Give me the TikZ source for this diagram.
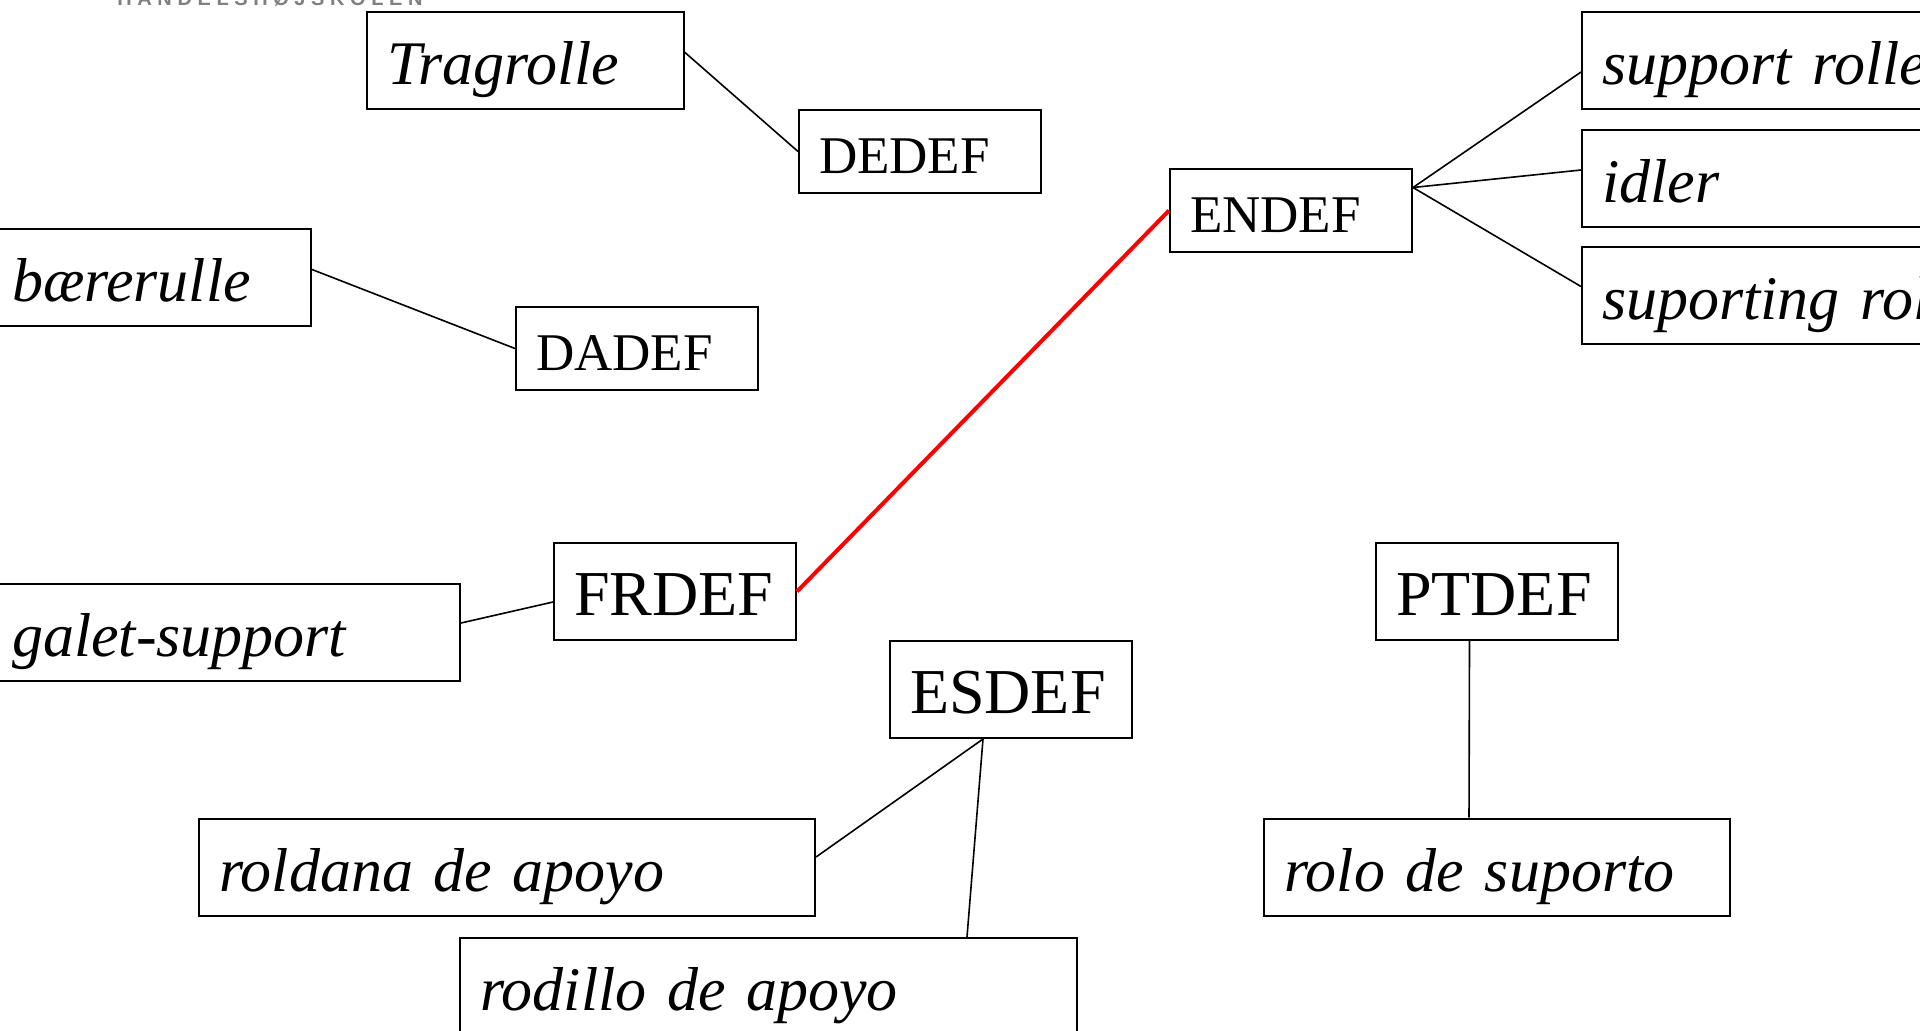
\documentclass[tikz,border=0pt]{standalone}
\usepackage{fontspec}
\setmainfont{Liberation Serif}
\newfontfamily\logofont[LetterSpace=28]{Liberation Sans}
\usepackage{tikz}
\usetikzlibrary{positioning}

\tikzset{
  code/.style={draw, line width=1pt, inner xsep=10pt, inner ysep=0pt, align=left,
    text width=101pt, minimum height=41.5pt, text height=26pt, text depth=4pt,
    font=\fontsize{26.5}{30}\selectfont},
  bigcode/.style={code, minimum height=48.5pt, text height=30pt, text depth=6pt,
    font=\fontsize{32}{36}\selectfont},
  term/.style={draw, line width=1pt, inner xsep=10pt, inner ysep=0pt, align=left,
    text width=#1, minimum height=48.5pt, text height=30pt, text depth=6pt,
    font=\fontsize{31}{36}\selectfont\itshape},
  link/.style={line width=0.8pt},
  match/.style={line width=2pt, red}
}

\begin{document}
\begin{tikzpicture}[x=0.5pt, y=-0.5pt, node distance=9.25pt]
  \useasboundingbox (0,0) rectangle (1920,1030);

  % Define nodes
  \node[anchor=base, text=black!50, font=\logofont\bfseries\fontsize{10}{12}\selectfont]
                                                          (logo) at (270,5.5) {HANDELSHØJSKOLEN};
  \node[term=138.5pt, anchor=north west]                   (tra)  at (366,11)  {Tragrolle};
  \node[code, right=56.5pt of tra, yshift=-45.5pt]         (de)   {DEDEF};
  \node[term=139.5pt, anchor=north west]                   (bae)  at (-9,228)  {bærerulle};
  \node[code, anchor=north west]                           (da)   at (515,306) {DADEF};
  \node[code, anchor=north west]                           (en)   at (1169,168) {ENDEF};
  \node[term=210pt, anchor=north west]                     (sup)  at (1581,11) {support roller};
  \node[term=210pt, below=of sup]                          (idl)  {idler};
  \node[term=210pt, below=of idl]                          (spt)  {suporting roller};
  \node[bigcode, anchor=north west]                        (fr)   at (553,542) {FRDEF};
  \node[term=214pt, anchor=north west]                     (gal)  at (-9,583)  {galet-support};
  \node[bigcode, anchor=north west]                        (es)   at (889,640) {ESDEF};
  \node[bigcode, anchor=north west]                        (pt)   at (1375,542) {PTDEF};
  \node[term=213pt, below=88.25pt of pt]                   (rlo)  {rolo de suporto};
  \node[term=288pt, anchor=north west]                     (rol)  at (198,818) {roldana de apoyo};
  \node[term=288.5pt, anchor=north west]                   (rod)  at (459,937) {rodillo de apoyo};

  % Connect the nodes
  \draw[link] ([yshift=4pt]tra.east) -- (de.west);
  \draw[link] ([yshift=4pt]bae.east) -- (da.west);
  \draw[link] ([yshift=4.75pt]gal.east) -- ([yshift=-5.25pt]fr.west);
  \draw[match] (fr.east) -- (en.west);
  \draw[link] ([yshift=11.5pt]en.east) -- ([yshift=-5.75pt]sup.west);
  \draw[link] ([yshift=11.5pt]en.east) -- ([yshift=4pt]idl.west);
  \draw[link] ([yshift=11.5pt]en.east) -- ([yshift=4.5pt]spt.west);
  \draw[link] ([xshift=-14pt]es.south) -- ([yshift=5.25pt]rol.east);
  \draw[link] ([xshift=-14pt]es.south) -- ([xshift=-55.5pt]rod.north east);
  \draw[link] ([xshift=-13.75pt]pt.south) -- ([xshift=-14pt]rlo.north);
\end{tikzpicture}
\end{document}
